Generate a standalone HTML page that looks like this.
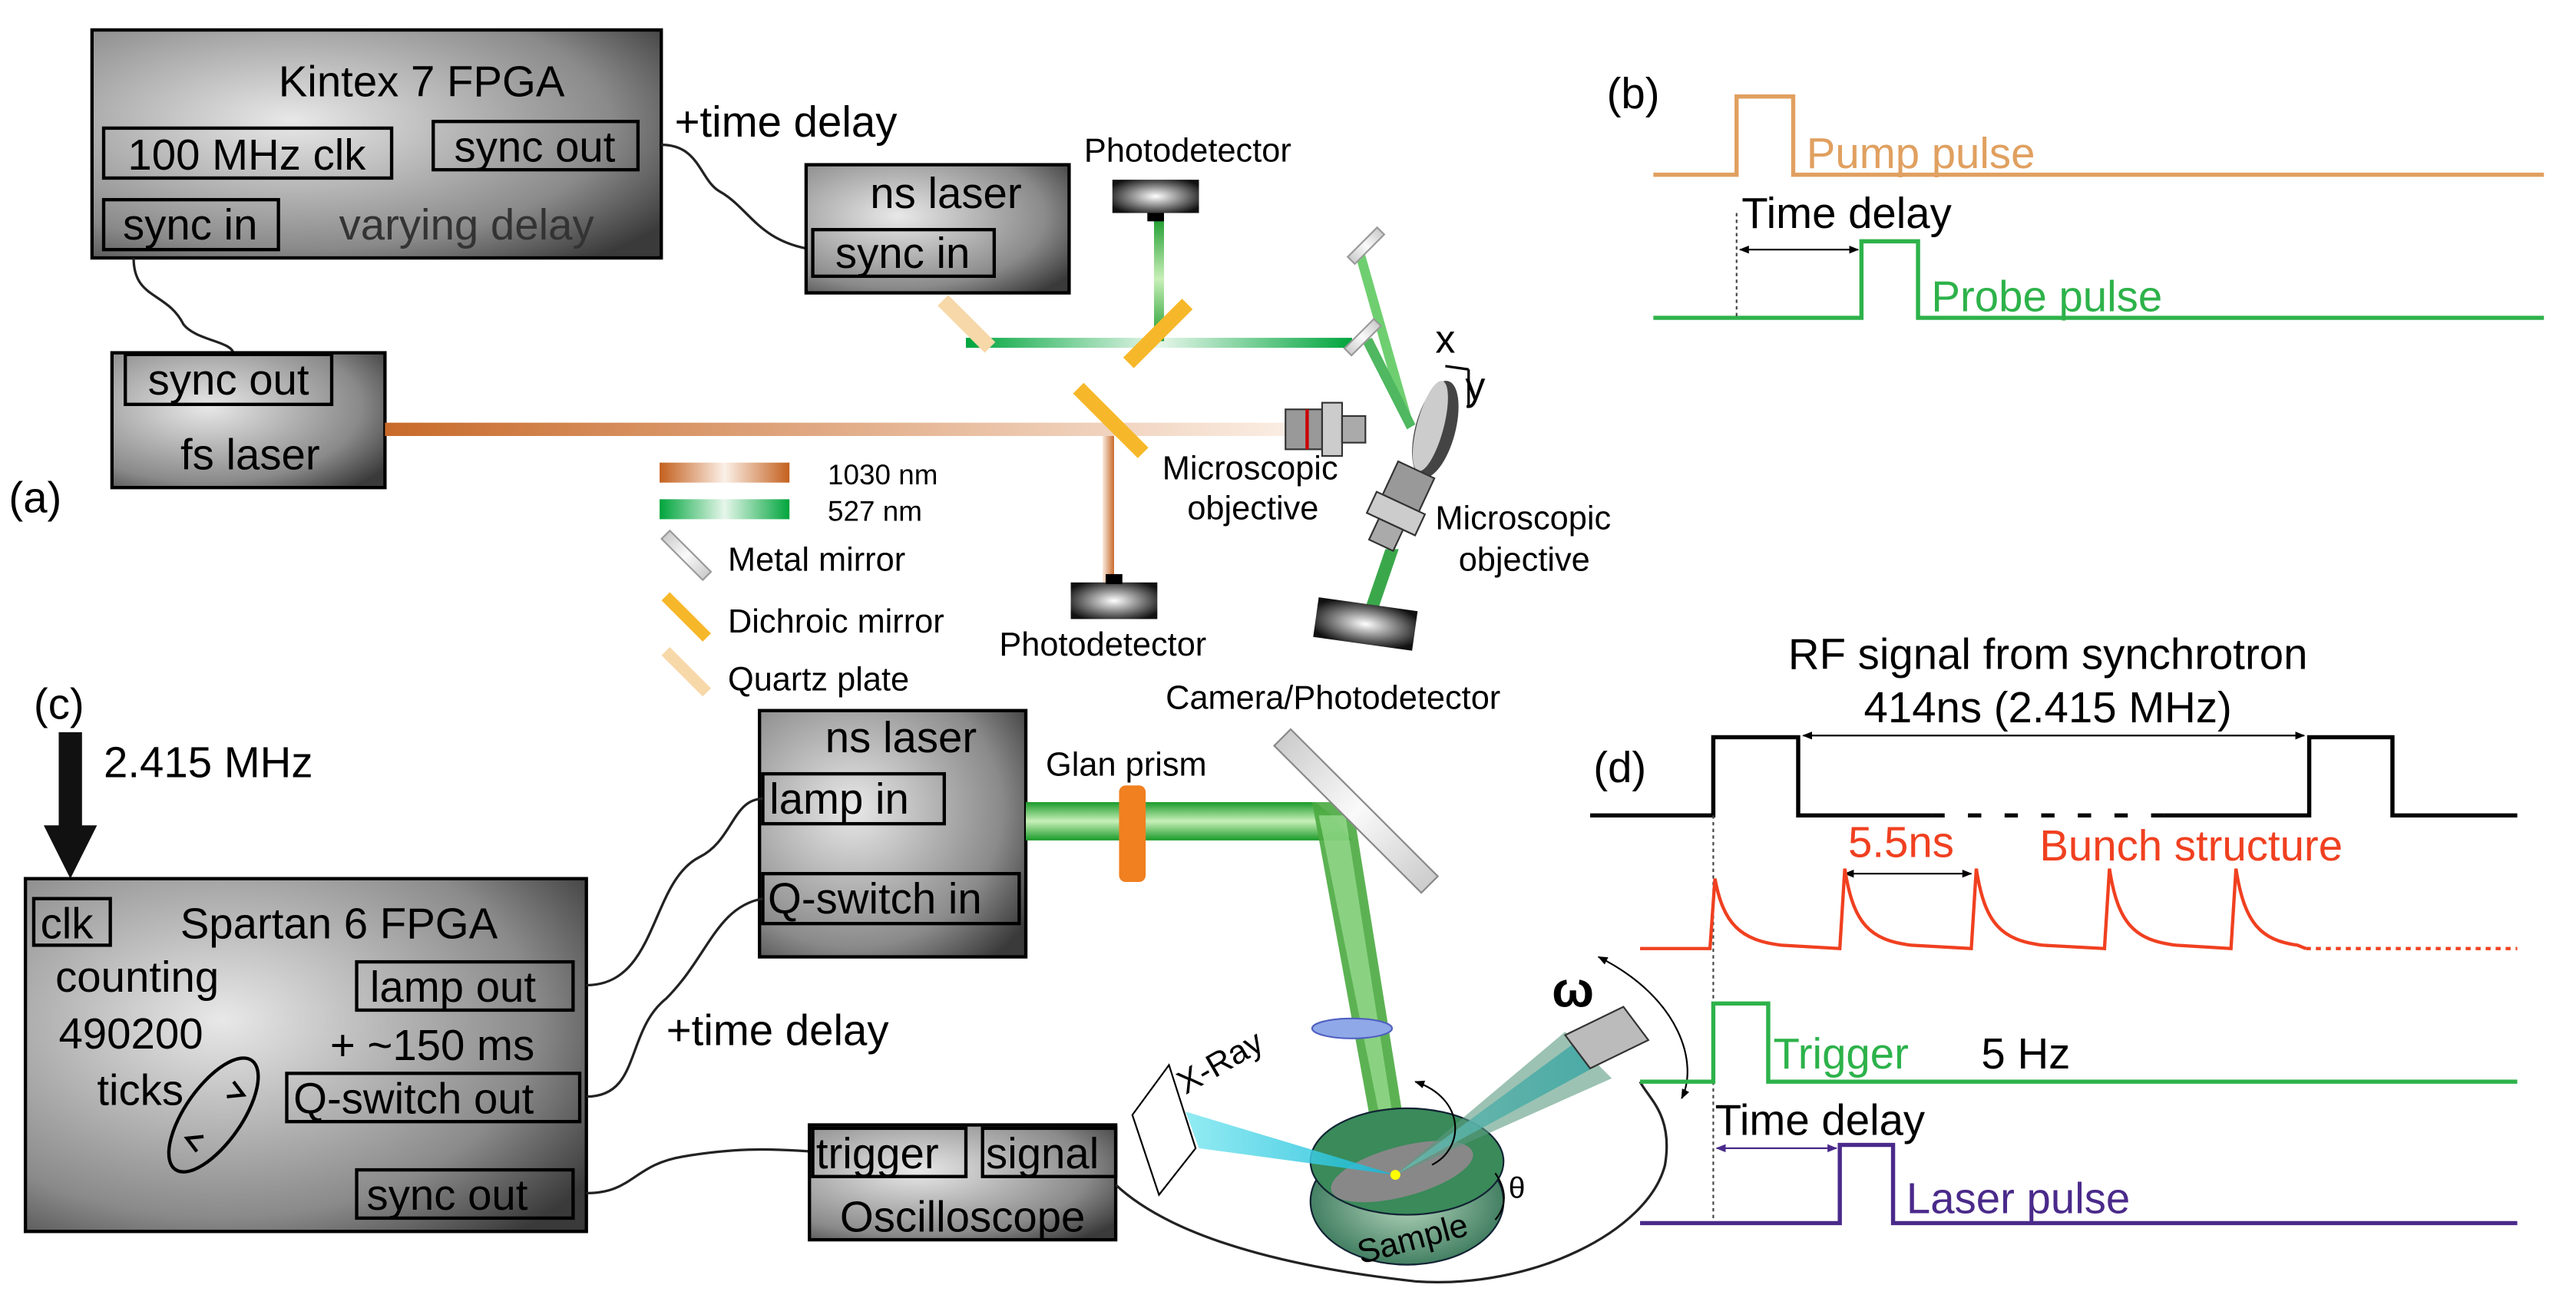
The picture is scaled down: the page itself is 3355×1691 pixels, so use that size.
<!DOCTYPE html>
<html><head><meta charset="utf-8"><style>
html,body{margin:0;padding:0;background:#fff}
svg{display:block}
text{font-family:"Liberation Sans",sans-serif}
</style></head><body>
<svg width="3355" height="1691" viewBox="0 0 1547 780" xmlns="http://www.w3.org/2000/svg">
<defs>
<radialGradient id="gb" cx="0.35" cy="0.4" r="0.8"><stop offset="0" stop-color="#e8e8e8"/><stop offset="0.7" stop-color="#8a8a8a"/><stop offset="1" stop-color="#3a3a3a"/></radialGradient>
<linearGradient id="orb" x1="0" x2="1"><stop offset="0" stop-color="#c86a2a"/><stop offset="1" stop-color="#fbeee4"/></linearGradient>
<linearGradient id="orl" x1="0" x2="1"><stop offset="0" stop-color="#c4601e"/><stop offset="0.5" stop-color="#fbf0e8"/><stop offset="1" stop-color="#c4601e"/></linearGradient>
<linearGradient id="grl" x1="0" x2="1"><stop offset="0" stop-color="#00a53d"/><stop offset="0.5" stop-color="#e6f6ea"/><stop offset="1" stop-color="#00a53d"/></linearGradient>
<linearGradient id="grv" x1="0" x2="0" y1="0" y2="1"><stop offset="0" stop-color="#1a9a2a"/><stop offset="0.5" stop-color="#c8f0b8"/><stop offset="1" stop-color="#1a9a2a"/></linearGradient>
<linearGradient id="mir" x1="0" x2="1"><stop offset="0" stop-color="#ccc"/><stop offset="0.5" stop-color="#fafafa"/><stop offset="1" stop-color="#ccc"/></linearGradient>
<linearGradient id="cy" x1="0" x2="1"><stop offset="0" stop-color="#7fe8f0"/><stop offset="1" stop-color="#10b8d8"/></linearGradient>
<radialGradient id="samp" cx="0.5" cy="0.5" r="0.6"><stop offset="0" stop-color="#b8d8c0"/><stop offset="1" stop-color="#2c6e50"/></radialGradient>
<radialGradient id="pd" cx="0.5" cy="0.5" r="0.6"><stop offset="0" stop-color="#fff"/><stop offset="1" stop-color="#111"/></radialGradient>
<marker id="ah" viewBox="0 0 10 10" refX="9" refY="5" markerWidth="6" markerHeight="6" orient="auto-start-reverse"><path d="M0,1 L10,5 L0,9z" fill="#000"/></marker>
<marker id="ahp" viewBox="0 0 10 10" refX="9" refY="5" markerWidth="6" markerHeight="6" orient="auto-start-reverse"><path d="M0,1 L10,5 L0,9z" fill="#4a2a8a"/></marker>
</defs>

<rect x="55" y="18" width="342" height="137" fill="url(#gb)" stroke="#000" stroke-width="2"/>
<text x="253" y="58" font-size="26" text-anchor="middle">Kintex 7 FPGA</text>
<rect x="62" y="77" width="173" height="30" fill="none" stroke="#000" stroke-width="2"/>
<text x="148" y="102" font-size="26" text-anchor="middle">100 MHz clk</text>
<rect x="260" y="73" width="123" height="29" fill="none" stroke="#000" stroke-width="2"/>
<text x="321" y="97" font-size="26" text-anchor="middle">sync out</text>
<rect x="62" y="120" width="105" height="30" fill="none" stroke="#000" stroke-width="2"/>
<text x="114" y="144" font-size="26" text-anchor="middle">sync in</text>
<text x="280" y="144" font-size="26" text-anchor="middle" fill="#333">varying delay</text>
<text x="405" y="82" font-size="26">+time delay</text>
<path d="M397,87 C420,87 420,108 432,115 C450,125 455,145 488,150" fill="none" stroke="#222" stroke-width="1.5"/>
<path d="M80,155 C80,180 100,175 110,195 C118,205 140,205 140,213" fill="none" stroke="#222" stroke-width="1.5"/>

<rect x="484" y="99" width="158" height="77" fill="url(#gb)" stroke="#000" stroke-width="2"/>
<text x="568" y="125" font-size="26" text-anchor="middle">ns laser</text>
<rect x="488" y="138" width="109" height="28" fill="none" stroke="#000" stroke-width="2"/>
<text x="542" y="161" font-size="26" text-anchor="middle">sync in</text>

<rect x="67" y="212" width="164" height="81" fill="url(#gb)" stroke="#000" stroke-width="2"/>
<rect x="75" y="213" width="124" height="30" fill="none" stroke="#000" stroke-width="2"/>
<text x="137" y="237" font-size="26" text-anchor="middle">sync out</text>
<text x="150" y="282" font-size="26" text-anchor="middle">fs laser</text>
<text x="5" y="308" font-size="26">(a)</text>

<rect x="231" y="254" width="545" height="8" fill="url(#orb)"/>
<rect x="663" y="262" width="7" height="88" fill="url(#orb)" transform="rotate(180 666 306)"/>
<rect x="580" y="203" width="232" height="6" fill="url(#grl)"/>
<rect x="693" y="130" width="6" height="75" fill="url(#grv)"/>
<polygon points="813,150 819,150 848,252 842,252" fill="#6fcf70"/>
<polygon points="818,205 824,203 850,255 845,258" fill="#4fb860"/>
<polygon points="832,330 840,330 828,365 820,365" fill="#3aa84a"/>
<rect x="560" y="190" width="40" height="9" fill="#f7d8a8" transform="rotate(45 580 195)"/>
<rect x="670" y="196" width="50" height="9" fill="#f6b82a" transform="rotate(-45 695 200)"/>
<rect x="640" y="248" width="55" height="9" fill="#f6b82a" transform="rotate(45 667 252)"/>
<rect x="808" y="145" width="25" height="6" fill="url(#mir)" stroke="#999" transform="rotate(-45 820 148)"/>
<rect x="806" y="200" width="25" height="6" fill="url(#mir)" stroke="#999" transform="rotate(-45 818 203)"/>
<rect x="668" y="108" width="52" height="20" fill="url(#pd)"/><rect x="689" y="128" width="10" height="5" fill="#000"/>
<text x="651" y="97" font-size="20">Photodetector</text>
<rect x="643" y="350" width="52" height="22" fill="url(#pd)"/><rect x="664" y="345" width="10" height="6" fill="#000"/>
<text x="600" y="394" font-size="20">Photodetector</text>
<rect x="772" y="246" width="22" height="24" fill="#999" stroke="#333"/><rect x="794" y="242" width="12" height="32" fill="#ccc" stroke="#333"/><rect x="806" y="250" width="14" height="16" fill="#aaa" stroke="#333"/>
<line x1="785" y1="246" x2="785" y2="270" stroke="#c00" stroke-width="2"/>
<ellipse cx="862" cy="258" rx="12" ry="30" fill="#444" transform="rotate(15 862 258)"/>
<ellipse cx="859" cy="256" rx="8" ry="28" fill="#ccc" transform="rotate(15 859 256)"/>
<text x="862" y="212" font-size="24">x</text><text x="880" y="240" font-size="24">y</text>
<path d="M868,220 L882,222 M882,222 L882,245" stroke="#000" stroke-width="1.5" fill="none"/>
<text x="698" y="288" font-size="20">Microscopic</text><text x="713" y="312" font-size="20">objective</text>
<g transform="rotate(25 840 305)"><rect x="828" y="280" width="24" height="22" fill="#999" stroke="#333"/><rect x="824" y="302" width="32" height="14" fill="#ccc" stroke="#333"/><rect x="832" y="316" width="16" height="14" fill="#aaa" stroke="#333"/></g>
<text x="862" y="318" font-size="20">Microscopic</text><text x="876" y="343" font-size="20">objective</text>
<rect x="790" y="363" width="60" height="24" fill="url(#pd)" transform="rotate(8 820 375)"/>
<text x="700" y="426" font-size="20">Camera/Photodetector</text>

<rect x="396" y="278" width="78" height="12" fill="url(#orl)"/>
<rect x="396" y="300" width="78" height="12" fill="url(#grl)"/>
<text x="497" y="291" font-size="17">1030 nm</text><text x="497" y="313" font-size="17">527 nm</text>
<rect x="395" y="330" width="35" height="7" fill="url(#mir)" stroke="#999" transform="rotate(45 412 333)"/>
<text x="437" y="343" font-size="20">Metal mirror</text>
<rect x="395" y="367" width="35" height="7" fill="#f6b82a" transform="rotate(45 412 370)"/>
<text x="437" y="380" font-size="20">Dichroic mirror</text>
<rect x="395" y="400" width="35" height="7" fill="#f7d8a8" transform="rotate(45 412 403)"/>
<text x="437" y="415" font-size="20">Quartz plate</text>

<text x="965" y="65" font-size="26">(b)</text>
<polyline points="993,105 1043,105 1043,58 1077,58 1077,105 1528,105" fill="none" stroke="#e0a060" stroke-width="2.5"/>
<text x="1085" y="101" font-size="26" fill="#e0a060">Pump pulse</text>
<polyline points="993,191 1118,191 1118,145 1152,145 1152,191 1528,191" fill="none" stroke="#2db24a" stroke-width="2.5"/>
<text x="1160" y="187" font-size="26" fill="#2db24a">Probe pulse</text>
<line x1="1043" y1="128" x2="1043" y2="191" stroke="#444" stroke-dasharray="2,2"/>
<text x="1046" y="137" font-size="26">Time delay</text>
<line x1="1045" y1="150" x2="1116" y2="150" stroke="#000" stroke-width="1" marker-start="url(#ah)" marker-end="url(#ah)"/>

<text x="20" y="432" font-size="26">(c)</text>
<rect x="35" y="440" width="14" height="58" fill="#111"/>
<polygon points="26,496 58,496 42,528" fill="#111"/>
<text x="62" y="467" font-size="26">2.415 MHz</text>
<rect x="15" y="528" width="337" height="212" fill="url(#gb)" stroke="#000" stroke-width="2"/>
<rect x="20" y="540" width="46" height="28" fill="none" stroke="#000" stroke-width="2"/>
<text x="24" y="564" font-size="26">clk</text>
<text x="108" y="564" font-size="26">Spartan 6 FPGA</text>
<text x="33" y="596" font-size="26">counting</text>
<text x="35" y="630" font-size="26">490200</text>
<text x="58" y="664" font-size="26">ticks</text>
<ellipse cx="128" cy="670" rx="17" ry="40" fill="none" stroke="#000" stroke-width="2" transform="rotate(35 128 670)"/>
<path d="M140,650 l6,8 l-10,1" fill="none" stroke="#000" stroke-width="2"/>
<path d="M118,692 l-6,-8 l10,-1" fill="none" stroke="#000" stroke-width="2"/>
<rect x="214" y="578" width="130" height="29" fill="none" stroke="#000" stroke-width="2"/>
<text x="222" y="602" font-size="26">lamp out</text>
<text x="198" y="637" font-size="26">+ ~150 ms</text>
<rect x="172" y="645" width="176" height="29" fill="none" stroke="#000" stroke-width="2"/>
<text x="176" y="669" font-size="26">Q-switch out</text>
<rect x="214" y="703" width="130" height="29" fill="none" stroke="#000" stroke-width="2"/>
<text x="220" y="727" font-size="26">sync out</text>
<text x="400" y="628" font-size="26">+time delay</text>

<rect x="456" y="427" width="160" height="148" fill="url(#gb)" stroke="#000" stroke-width="2"/>
<text x="541" y="452" font-size="26" text-anchor="middle">ns laser</text>
<rect x="458" y="465" width="109" height="30" fill="none" stroke="#000" stroke-width="2"/>
<text x="462" y="489" font-size="26">lamp in</text>
<rect x="458" y="525" width="154" height="30" fill="none" stroke="#000" stroke-width="2"/>
<text x="461" y="549" font-size="26">Q-switch in</text>
<path d="M352,592 C395,592 390,530 420,515 C440,505 440,480 458,480" fill="none" stroke="#222" stroke-width="1.5"/>
<path d="M352,659 C385,659 375,620 400,600 C425,575 430,545 458,540" fill="none" stroke="#222" stroke-width="1.5"/>
<path d="M352,717 C380,717 380,700 410,695 C440,690 460,690 488,692" fill="none" stroke="#222" stroke-width="1.5"/>

<rect x="486" y="676" width="184" height="69" fill="url(#gb)" stroke="#000" stroke-width="2"/>
<rect x="488" y="678" width="92" height="29" fill="none" stroke="#000" stroke-width="2"/>
<text x="490" y="702" font-size="26">trigger</text>
<rect x="590" y="678" width="80" height="29" fill="none" stroke="#000" stroke-width="2"/>
<text x="592" y="702" font-size="26">signal</text>
<text x="578" y="740" font-size="26" text-anchor="middle">Oscilloscope</text>
<path d="M670,712 C700,740 760,760 850,770 C920,775 990,740 1000,700 C1005,670 990,660 985,650" fill="none" stroke="#222" stroke-width="1.5"/>

<polygon points="616,482 790,482 800,490 812,505 616,505" fill="url(#grv)"/>
<polygon points="788,482 812,482 842,668 822,668" fill="#4aaa40" opacity="0.9"/>
<polygon points="792,490 808,490 836,668 828,668" fill="#a8e8a0" opacity="0.6"/>
<rect x="672" y="472" width="16" height="58" rx="4" fill="#f08020"/>
<text x="628" y="466" font-size="20">Glan prism</text>
<rect x="752" y="480" width="125" height="14" fill="url(#mir)" stroke="#888" transform="rotate(45 814 487)"/>
<ellipse cx="812" cy="618" rx="24" ry="6" fill="#8fa8e8" stroke="#5060c0"/>
<ellipse cx="845" cy="722" rx="58" ry="38" fill="url(#samp)" stroke="#123"/>
<ellipse cx="845" cy="698" rx="58" ry="32" fill="#3a8a5a" stroke="#123"/>
<ellipse cx="842" cy="704" rx="44" ry="15" fill="#888" transform="rotate(-15 842 704)"/>
<text x="815" y="752" font-size="20" transform="rotate(-15 845 747)">Sample</text>
<polygon points="712,668 838,706 720,690" fill="url(#cy)" opacity="0.85"/>
<polygon points="838,706 948,625 960,640" fill="url(#cy)" opacity="0.85"/>
<polygon points="838,706 940,620 968,648" fill="#5a9a80" opacity="0.6"/>
<polygon points="680,670 702,640 718,690 696,718" fill="#fff" stroke="#000"/>
<text x="712" y="658" font-size="20" transform="rotate(-30 712 658)">X-Ray</text>
<polygon points="940,622 975,605 990,625 955,642" fill="#bbb" stroke="#333"/>
<text x="932" y="605" font-size="30" font-family="Liberation Serif" font-weight="bold">ω</text>
<path d="M960,575 C1010,600 1020,640 1010,660" fill="none" stroke="#000" marker-start="url(#ah)" marker-end="url(#ah)"/>
<path d="M850,650 C880,660 880,690 860,700" fill="none" stroke="#000" marker-start="url(#ah)"/>
<text x="906" y="720" font-size="18" font-family="Liberation Serif">θ</text>
<path d="M898,705 C905,715 905,725 898,733" fill="none" stroke="#000"/>
<circle cx="838" cy="706" r="3" fill="#ff0"/>

<text x="957" y="470" font-size="26">(d)</text>
<text x="1230" y="402" font-size="26" text-anchor="middle">RF signal from synchrotron</text>
<text x="1230" y="434" font-size="26" text-anchor="middle">414ns (2.415 MHz)</text>
<line x1="1083" y1="442" x2="1384" y2="442" stroke="#000" marker-start="url(#ah)" marker-end="url(#ah)"/>
<polyline points="955,490 1029,490 1029,443 1080,443 1080,490 1160,490" fill="none" stroke="#000" stroke-width="2.5"/>
<line x1="1160" y1="490" x2="1300" y2="490" stroke="#000" stroke-width="2.5" stroke-dasharray="8,14"/>
<polyline points="1300,490 1387,490 1387,443 1437,443 1437,490 1512,490" fill="none" stroke="#000" stroke-width="2.5"/>
<line x1="1029" y1="490" x2="1029" y2="735" stroke="#444" stroke-dasharray="2,2"/>
<text x="1110" y="515" font-size="26" fill="#f04020">5.5ns</text>
<text x="1225" y="517" font-size="26" fill="#f04020">Bunch structure</text>
<line x1="1108" y1="525" x2="1184" y2="525" stroke="#000" marker-start="url(#ah)" marker-end="url(#ah)"/>
<path d="M985,570 L1027,570 L1030,528 C1035,555 1045,565 1070,568 L1105,570 L1108,522 C1113,555 1123,565 1148,568 L1184,570 L1187,522 C1192,555 1202,565 1227,568 L1264,570 L1267,522 C1272,555 1282,565 1307,568 L1340,570 L1343,522 C1348,555 1358,565 1380,568 L1385,570" fill="none" stroke="#f04020" stroke-width="2"/>
<line x1="1385" y1="570" x2="1512" y2="570" stroke="#f04020" stroke-width="2" stroke-dasharray="3,3"/>
<polyline points="985,650 1029,650 1029,603 1062,603 1062,650 1512,650" fill="none" stroke="#2db24a" stroke-width="2.5"/>
<text x="1065" y="642" font-size="26" fill="#2db24a">Trigger</text>
<text x="1190" y="642" font-size="26">5 Hz</text>
<text x="1030" y="682" font-size="26">Time delay</text>
<line x1="1031" y1="690" x2="1103" y2="690" stroke="#4a2a8a" marker-start="url(#ahp)" marker-end="url(#ahp)"/>
<polyline points="985,735 1105,735 1105,688 1137,688 1137,735 1512,735" fill="none" stroke="#4a2a8a" stroke-width="2.5"/>
<text x="1145" y="729" font-size="26" fill="#4a2a8a">Laser pulse</text>
</svg>
</body></html>
